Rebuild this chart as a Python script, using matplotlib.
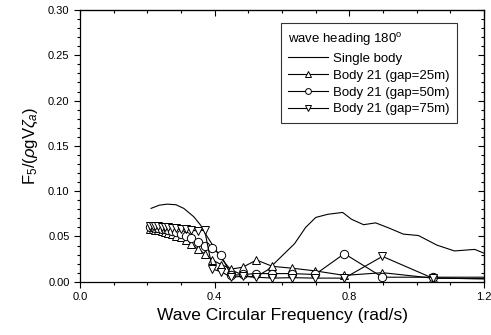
import numpy as np
import matplotlib
matplotlib.use('Agg')
import matplotlib.pyplot as plt
from matplotlib.ticker import MultipleLocator

plt.rcParams['font.family'] = ['Liberation Sans', 'DejaVu Sans']
plt.rcParams['mathtext.fontset'] = 'custom'
plt.rcParams['mathtext.rm'] = 'Liberation Sans'
plt.rcParams['mathtext.it'] = 'Liberation Sans:italic'

# ========================================================
# Data
# ========================================================
freq_single = [0.211, 0.235, 0.259, 0.285, 0.308, 0.338, 0.358, 0.378, 0.398,
               0.423, 0.448, 0.487, 0.507, 0.530, 0.557, 0.597, 0.637, 0.670,
               0.700, 0.736, 0.780, 0.806, 0.842, 0.878, 0.916, 0.960, 1.005,
               1.060, 1.112, 1.172, 1.210]
F5_single = [0.081, 0.0845, 0.0857, 0.085, 0.081, 0.0717, 0.0625, 0.0496, 0.038,
             0.024, 0.013, 0.007, 0.0055, 0.007, 0.013, 0.0275, 0.042, 0.060,
             0.071, 0.0745, 0.0765, 0.069, 0.063, 0.065, 0.0595, 0.0526, 0.051,
             0.0404, 0.034, 0.0357, 0.030]

freq_body = [0.209, 0.217, 0.224, 0.233, 0.242, 0.251, 0.262, 0.273, 0.286,
             0.299, 0.314, 0.331, 0.349, 0.370, 0.393, 0.419, 0.449, 0.483,
             0.524, 0.571, 0.628, 0.698, 0.785, 0.898, 1.047, 1.257]
F5_gap25 = [0.058, 0.058, 0.057, 0.057, 0.056, 0.055, 0.054, 0.053, 0.051,
            0.049, 0.046, 0.042, 0.036, 0.031, 0.024, 0.019, 0.014, 0.016,
            0.024, 0.017, 0.015, 0.012, 0.007, 0.010, 0.004, 0.003]
F5_gap50 = [0.060, 0.060, 0.059, 0.059, 0.058, 0.058, 0.057, 0.056, 0.055,
            0.053, 0.051, 0.048, 0.044, 0.040, 0.037, 0.029, 0.007, 0.008,
            0.009, 0.009, 0.009, 0.008, 0.031, 0.005, 0.005, 0.005]
F5_gap75 = [0.062, 0.062, 0.061, 0.061, 0.060, 0.060, 0.060, 0.059, 0.059,
            0.058, 0.058, 0.057, 0.056, 0.057, 0.014, 0.011, 0.005, 0.006,
            0.005, 0.004, 0.0045, 0.004, 0.004, 0.028, 0.004, 0.003]

# ========================================================
# Plot
# ========================================================
fig = plt.figure(figsize=(4.91, 3.35), dpi=100)
ax = fig.add_axes([0.163, 0.159, 0.823, 0.811])

lw = 0.8
mk = dict(markersize=6, markerfacecolor='white', markeredgecolor='black',
          markeredgewidth=0.7)
ax.plot(freq_single, F5_single, color='black', lw=lw, label='Single body')
ax.plot(freq_body, F5_gap25, color='black', lw=lw, marker='^',
        label='Body 21 (gap=25m)', **mk)
ax.plot(freq_body, F5_gap50, color='black', lw=lw, marker='o',
        label='Body 21 (gap=50m)', **mk)
ax.plot(freq_body, F5_gap75, color='black', lw=lw, marker='v',
        label='Body 21 (gap=75m)', **mk)

ax.set_xlim(0.0, 1.2)
ax.set_ylim(0.0, 0.30)
ax.xaxis.set_major_locator(MultipleLocator(0.4))
ax.xaxis.set_minor_locator(MultipleLocator(0.1))
ax.yaxis.set_major_locator(MultipleLocator(0.05))
ax.yaxis.set_minor_locator(MultipleLocator(0.01))
ax.xaxis.set_major_formatter(lambda v, p: f'{v:.1f}')
ax.yaxis.set_major_formatter(lambda v, p: f'{v:.2f}')
ax.tick_params(which='both', direction='out', labelsize=8, width=0.8)
ax.tick_params(which='major', length=4)
ax.tick_params(which='minor', length=2)
for s in ax.spines.values():
    s.set_linewidth(0.9)

# inward ticks on top and right
top = ax.secondary_xaxis('top')
top.xaxis.set_major_locator(MultipleLocator(0.4))
top.xaxis.set_minor_locator(MultipleLocator(0.1))
top.tick_params(which='both', direction='in', labeltop=False, width=0.8)
top.tick_params(which='major', length=4)
top.tick_params(which='minor', length=2)
right = ax.secondary_yaxis('right')
right.yaxis.set_major_locator(MultipleLocator(0.05))
right.yaxis.set_minor_locator(MultipleLocator(0.01))
right.tick_params(which='both', direction='in', labelright=False, width=0.8)
right.tick_params(which='major', length=4)
right.tick_params(which='minor', length=2)

ax.set_xlabel('Wave Circular Frequency (rad/s)', fontsize=12.5, labelpad=4)
ax.set_ylabel(r'F$_5$/($\rho$gV$\zeta_a$)', fontsize=12, labelpad=6)

leg = ax.legend(title=r'wave heading 180$^{\rm o}$', loc='upper right',
                bbox_to_anchor=(0.933, 0.952), borderaxespad=0,
                fontsize=9.5, title_fontsize=9.5,
                frameon=True, fancybox=False, edgecolor='black',
                handlelength=3.0, handletextpad=0.35, labelspacing=0.35,
                borderpad=0.6, alignment='left', markerscale=0.7)
leg.get_frame().set_linewidth(0.8)

plt.savefig('out.png', dpi=100)
